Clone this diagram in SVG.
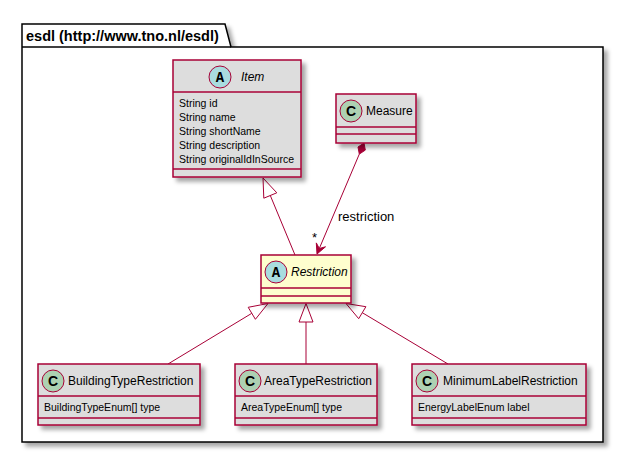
<svg xmlns="http://www.w3.org/2000/svg" width="623" height="453" viewBox="0 0 623 453">
<defs>
<filter id="sh" x="-10%" y="-10%" width="130%" height="140%">
<feDropShadow dx="4" dy="4" stdDeviation="2" flood-color="#000000" flood-opacity="0.35"/>
</filter>
<style>
.box{fill:#DDDDDD;stroke:#A80036;stroke-width:1.5;}
.abs{fill:#FEFECE;stroke:#A80036;stroke-width:1.5;}
.sep{stroke:#A80036;stroke-width:1.5;}
.circA{fill:#A9DCDF;stroke:#A80036;stroke-width:1;}
.circC{fill:#ADD1B2;stroke:#A80036;stroke-width:1;}
.name{font-family:"Liberation Sans",Arial,sans-serif;font-size:12px;fill:#000;}
.it{font-style:italic;}
.attr{font-family:"Liberation Sans",Arial,sans-serif;font-size:10.5px;fill:#000;}
.lA{font-family:"Liberation Mono","Courier New",monospace;font-size:14px;font-weight:bold;fill:#000;text-anchor:middle;}
.lC{font-family:"Liberation Sans",Arial,sans-serif;font-size:14px;font-weight:bold;fill:#000;text-anchor:middle;}
.edge{stroke:#A80036;stroke-width:1;fill:none;}
.tri{fill:#FFFFFF;stroke:#A80036;stroke-width:1;}
.fill{fill:#A80036;stroke:#A80036;stroke-width:1;}
.lbl{font-family:"Liberation Sans",Arial,sans-serif;font-size:13px;fill:#000;}
</style>
</defs>
<rect width="623" height="453" fill="#FFFFFF"/>

<g id="package-esdl">
<path d="M22,24 H225 L231,47 H603 V442 H22 Z" fill="#FFFFFF" stroke="#000000" stroke-width="1.5" filter="url(#sh)"/>
<line x1="22" y1="47" x2="231" y2="47" stroke="#000000" stroke-width="1.5"/>
<text x="26" y="41" font-family="'Liberation Sans',Arial,sans-serif" font-size="14.5" font-weight="bold">esdl (http://www.tno.nl/esdl)</text>
</g>

<g id="connectors">
<!-- Restriction -> Item inheritance -->
<line class="edge" x1="295" y1="255" x2="270.3" y2="195.5"/>
<polygon class="tri" points="263,178 276.8,192.8 263.8,198.2"/>
<!-- Measure composition -> Restriction -->
<line class="edge" x1="359.3" y1="154.1" x2="319.3" y2="248.5"/>
<polygon class="fill" points="364,143 365.3,150.1 359.3,154.1 358,147"/>
<polygon class="fill" points="317,254 325.5,246.8 319.3,248.5 316.3,242.9"/>
<text class="lbl" x="338" y="221">restriction</text>
<text class="lbl" x="312" y="242">*</text>
<!-- BuildingTypeRestriction -> Restriction -->
<line class="edge" x1="168" y1="364" x2="251.8" y2="313.3"/>
<polygon class="tri" points="268,303.5 255.4,319.3 248.2,307.3"/>
<!-- AreaTypeRestriction -> Restriction -->
<line class="edge" x1="306" y1="364" x2="306" y2="322"/>
<polygon class="tri" points="306,303.5 299,322 313,322"/>
<!-- MinimumLabelRestriction -> Restriction -->
<line class="edge" x1="448" y1="364" x2="362.3" y2="312.7"/>
<polygon class="tri" points="346,303.5 358.7,318.7 365.9,306.7"/>
</g>

<g id="Item">
<rect class="box" x="173" y="60" width="128" height="117" filter="url(#sh)"/>
<line class="sep" x1="173" y1="92" x2="301" y2="92"/>
<line class="sep" x1="173" y1="169" x2="301" y2="169"/>
<circle class="circA" cx="220" cy="77" r="11"/>
<text class="lA" x="220" y="82">A</text>
<text class="name it" x="241" y="81">Item</text>
<text class="attr" x="179" y="107">String id</text>
<text class="attr" x="179" y="121">String name</text>
<text class="attr" x="179" y="135">String shortName</text>
<text class="attr" x="179" y="149">String description</text>
<text class="attr" x="179" y="163">String originalIdInSource</text>
</g>

<g id="Measure">
<rect class="box" x="336" y="94" width="80" height="49" filter="url(#sh)"/>
<line class="sep" x1="336" y1="127" x2="416" y2="127"/>
<line class="sep" x1="336" y1="134" x2="416" y2="134"/>
<circle class="circC" cx="351" cy="111" r="11"/>
<text class="lC" x="351" y="116">C</text>
<text class="name" x="366" y="115">Measure</text>
</g>

<g id="Restriction">
<rect class="abs" x="261" y="255" width="90" height="48" filter="url(#sh)"/>
<line class="sep" x1="261" y1="288" x2="351" y2="288"/>
<line class="sep" x1="261" y1="296" x2="351" y2="296"/>
<circle class="circA" cx="276" cy="272" r="11"/>
<text class="lA" x="276" y="277">A</text>
<text class="name it" x="291" y="276">Restriction</text>
</g>

<g id="BuildingTypeRestriction">
<rect class="box" x="38" y="364" width="162" height="61" filter="url(#sh)"/>
<line class="sep" x1="38" y1="396" x2="200" y2="396"/>
<line class="sep" x1="38" y1="418" x2="200" y2="418"/>
<circle class="circC" cx="53" cy="381" r="11"/>
<text class="lC" x="53" y="386">C</text>
<text class="name" x="68" y="385">BuildingTypeRestriction</text>
<text class="attr" x="44" y="411">BuildingTypeEnum[] type</text>
</g>

<g id="AreaTypeRestriction">
<rect class="box" x="235" y="364" width="142" height="61" filter="url(#sh)"/>
<line class="sep" x1="235" y1="396" x2="377" y2="396"/>
<line class="sep" x1="235" y1="418" x2="377" y2="418"/>
<circle class="circC" cx="250" cy="381" r="11"/>
<text class="lC" x="250" y="386">C</text>
<text class="name" x="264" y="385">AreaTypeRestriction</text>
<text class="attr" x="241" y="411">AreaTypeEnum[] type</text>
</g>

<g id="MinimumLabelRestriction">
<rect class="box" x="412" y="364" width="174" height="61" filter="url(#sh)"/>
<line class="sep" x1="412" y1="396" x2="586" y2="396"/>
<line class="sep" x1="412" y1="418" x2="586" y2="418"/>
<circle class="circC" cx="427" cy="381" r="11"/>
<text class="lC" x="427" y="386">C</text>
<text class="name" x="443" y="385">MinimumLabelRestriction</text>
<text class="attr" x="418" y="411">EnergyLabelEnum label</text>
</g>
</svg>
